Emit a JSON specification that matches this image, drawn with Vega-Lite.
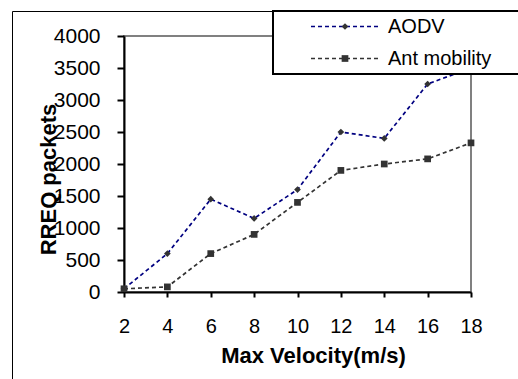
{
  "$schema": "https://vega.github.io/schema/vega-lite/v6.json",
  "width": 347,
  "height": 256,
  "autosize": {"type": "none"},
  "padding": {"left": 124, "top": 36, "right": 47, "bottom": 87},
  "background": "#ffffff",
  "config": {
    "font": "Liberation Sans",
    "view": {"stroke": "#808080", "strokeWidth": 2}
  },
  "data": {
    "values": [
      {"velocity": 2, "packets": 50, "series": "AODV"},
      {"velocity": 4, "packets": 600, "series": "AODV"},
      {"velocity": 6, "packets": 1450, "series": "AODV"},
      {"velocity": 8, "packets": 1150, "series": "AODV"},
      {"velocity": 10, "packets": 1600, "series": "AODV"},
      {"velocity": 12, "packets": 2500, "series": "AODV"},
      {"velocity": 14, "packets": 2400, "series": "AODV"},
      {"velocity": 16, "packets": 3250, "series": "AODV"},
      {"velocity": 18, "packets": 3500, "series": "AODV"},
      {"velocity": 2, "packets": 50, "series": "Ant mobility"},
      {"velocity": 4, "packets": 80, "series": "Ant mobility"},
      {"velocity": 6, "packets": 600, "series": "Ant mobility"},
      {"velocity": 8, "packets": 900, "series": "Ant mobility"},
      {"velocity": 10, "packets": 1400, "series": "Ant mobility"},
      {"velocity": 12, "packets": 1900, "series": "Ant mobility"},
      {"velocity": 14, "packets": 2000, "series": "Ant mobility"},
      {"velocity": 16, "packets": 2080, "series": "Ant mobility"},
      {"velocity": 18, "packets": 2330, "series": "Ant mobility"}
    ]
  },
  "encoding": {
    "x": {
      "field": "velocity",
      "type": "quantitative",
      "scale": {"domain": [2, 18], "nice": false, "zero": false},
      "axis": {
        "title": "Max Velocity(m/s)",
        "values": [2, 4, 6, 8, 10, 12, 14, 16, 18],
        "grid": false,
        "labelFlush": false,
        "domainColor": "#000000",
        "domainWidth": 2,
        "tickColor": "#000000",
        "tickWidth": 2,
        "tickSize": 5,
        "labelFont": "Liberation Sans",
        "labelFontSize": 20,
        "labelColor": "#000000",
        "labelPadding": 19,
        "titleFont": "Liberation Sans",
        "titleFontSize": 22,
        "titleFontWeight": "bold",
        "titleColor": "#000000",
        "titleX": 189,
        "titleY": 70,
        "titleAlign": "center",
        "titleBaseline": "alphabetic"
      }
    },
    "y": {
      "field": "packets",
      "type": "quantitative",
      "scale": {"domain": [0, 4000], "nice": false},
      "axis": {
        "title": "RREQ packets",
        "values": [0, 500, 1000, 1500, 2000, 2500, 3000, 3500, 4000],
        "format": "d",
        "grid": false,
        "labelFlush": false,
        "domainColor": "#000000",
        "domainWidth": 2,
        "tickColor": "#000000",
        "tickWidth": 2,
        "tickSize": 7,
        "labelFont": "Liberation Sans",
        "labelFontSize": 21,
        "labelColor": "#000000",
        "labelPadding": 17,
        "titleFont": "Liberation Sans",
        "titleFontSize": 22,
        "titleFontWeight": "bold",
        "titleColor": "#000000",
        "titleX": -69,
        "titleY": 143,
        "titleAngle": -90,
        "titleAlign": "center",
        "titleBaseline": "alphabetic"
      }
    }
  },
  "layer": [
    {
      "mark": {"type": "line", "strokeDash": [4, 3], "strokeWidth": 1.7},
      "encoding": {
        "color": {
          "field": "series",
          "type": "nominal",
          "scale": {"domain": ["AODV", "Ant mobility"], "range": ["#000080", "#333333"]},
          "legend": {
            "orient": "none",
            "legendX": 149,
            "legendY": -25,
            "title": " ",
            "titleOrient": "right",
            "titlePadding": 40,
            "titleFontSize": 20,
            "padding": 3,
            "clipHeight": 25,
            "rowPadding": 7,
            "symbolType": "stroke",
            "symbolSize": 4761,
            "symbolStrokeWidth": 1.5,
            "symbolDash": [4, 3],
            "symbolOffset": 34,
            "labelOffset": 7,
            "labelFont": "Liberation Sans",
            "labelFontSize": 20,
            "labelColor": "#000000",
            "fillColor": "#ffffff",
            "strokeColor": "#000000",
            "encode": {"legend": {"update": {"strokeWidth": {"value": 2}}}}
          }
        }
      }
    },
    {
      "mark": {"type": "point", "filled": true, "size": 45, "color": "#333333", "fill": "#333333", "opacity": 1},
      "encoding": {
        "shape": {
          "field": "series",
          "type": "nominal",
          "scale": {"domain": ["Ant mobility", "AODV"], "range": ["square", "diamond"]},
          "legend": {
            "orient": "none",
            "legendX": 149,
            "legendY": -25,
            "title": null,
            "values": ["AODV", "Ant mobility"],
            "padding": 3,
            "clipHeight": 25,
            "rowPadding": 7,
            "symbolSize": 45,
            "symbolOffset": 59,
            "symbolFillColor": "#333333",
            "symbolStrokeColor": "#333333",
            "labelFontSize": 20,
            "labelExpr": "''"
          }
        },
        "opacity": {
          "field": "velocity",
          "type": "quantitative",
          "scale": {"range": [1, 1]},
          "legend": {
            "orient": "none",
            "legendX": -112,
            "legendY": -25,
            "title": null,
            "padding": 500,
            "labelExpr": "''",
            "symbolOpacity": 0,
            "strokeColor": "#000000",
            "encode": {"legend": {"update": {"strokeWidth": {"value": 2}}}}
          }
        }
      }
    }
  ]
}
